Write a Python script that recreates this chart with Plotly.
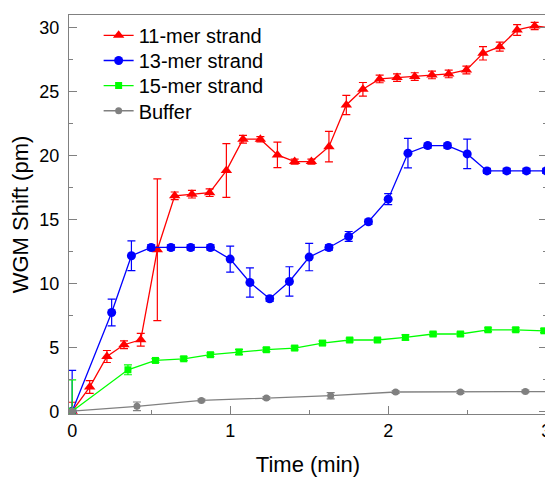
import plotly.graph_objects as go

# 11-mer strand
x11 = [0, 0.111, 0.220, 0.328, 0.434, 0.539, 0.649, 0.758, 0.870, 0.976, 1.081, 1.191, 1.299, 1.408,
       1.514, 1.625, 1.735, 1.840, 1.946, 2.056, 2.168, 2.277, 2.383, 2.495, 2.600, 2.706, 2.816, 2.927, 3.037]
y11 = [0, 1.89, 4.28, 5.2, 5.59, 12.63, 16.85, 16.98, 17.1, 18.83, 21.28, 21.28, 20.05, 19.53,
       19.53, 20.7, 23.96, 25.19, 26.0, 26.1, 26.18, 26.31, 26.39, 26.7, 28.0, 28.52, 29.83, 30.14, 30.0]
e11 = [0.7, 0.5, 0.47, 0.3, 0.5, 5.55, 0.3, 0.3, 0.3, 2.1, 0.3, 0.2, 1.0, 0.2,
       0.2, 1.2, 0.75, 0.53, 0.3, 0.3, 0.3, 0.3, 0.3, 0.3, 0.52, 0.35, 0.42, 0.29, 0.3]

# 13-mer strand
x13 = [0, 0.25, 0.375, 0.5, 0.625, 0.75, 0.875, 1.0, 1.125, 1.25, 1.375, 1.5, 1.625, 1.75,
       1.875, 2.0, 2.125, 2.25, 2.375, 2.5, 2.625, 2.75, 2.875, 3.0]
y13 = [0, 7.72, 12.16, 12.81, 12.81, 12.81, 12.81, 11.9, 10.07, 8.8, 10.15, 12.06, 12.81, 13.67,
       14.82, 16.59, 20.19, 20.78, 20.78, 20.13, 18.8, 18.8, 18.8, 18.8]
e13 = [3.2, 1.05, 1.16, 0.2, 0.2, 0.2, 0.2, 1.02, 1.15, 0.2, 1.15, 1.07, 0.2, 0.39,
       0.2, 0.43, 1.15, 0.2, 0.2, 1.15, 0.2, 0.2, 0.2, 0.2]

# 15-mer strand
x15 = [0, 0.353, 0.527, 0.706, 0.875, 1.056, 1.229, 1.408, 1.584, 1.756, 1.932, 2.109, 2.284,
       2.457, 2.632, 2.807, 2.986]
y15 = [0, 3.24, 3.97, 4.1, 4.42, 4.63, 4.81, 4.94, 5.33, 5.57, 5.57, 5.77, 6.04, 6.04, 6.37, 6.37, 6.29]
e15 = [2.45, 0.39, 0.15, 0.15, 0.15, 0.2, 0.15, 0.15, 0.15, 0.15, 0.15, 0.2, 0.15, 0.15, 0.15, 0.15, 0.15]

# Buffer
xb = [0, 0.41, 0.818, 1.229, 1.636, 2.047, 2.457, 2.868, 3.28]
yb = [0, 0.38, 0.84, 1.03, 1.21, 1.5, 1.5, 1.55, 1.55]
eb = [0.1, 0.34, 0.1, 0.1, 0.25, 0.1, 0.1, 0.1, 0.1]

names = ["11-mer strand", "13-mer strand", "15-mer strand", "Buffer"]
colors = ["#FF0000", "#0000FF", "#00FF00", "#808080"]
symbols = ["triangle-up", "circle", "square", "circle"]
sizes = [10, 9, 7, 7]

FONT = "Arial, Liberation Sans, sans-serif"

fig = go.Figure()
series = [(x11, y11, e11), (x13, y13, e13), (x15, y15, e15), (xb, yb, eb)]
legend_ids = ["legend", "legend2", "legend3", "legend4"]
for i, (x, y, e) in enumerate(series):
    fig.add_trace(go.Scatter(
        x=x, y=y, name=names[i], mode="lines+markers", legend=legend_ids[i],
        line=dict(color=colors[i], width=1.3),
        marker=dict(color=colors[i], symbol=symbols[i], size=sizes[i]),
        error_y=dict(type="data", array=e, visible=True, color=colors[i], thickness=1.2, width=4),
    ))

axis_common = dict(
    showgrid=False, zeroline=False, showline=True, linecolor="#808080", linewidth=1.2,
    ticks="inside", ticklen=8, tickcolor="#808080", tickwidth=1.2, automargin=False,
    tickfont=dict(family=FONT, size=18, color="black"),
)

fig.update_xaxes(
    **axis_common, range=[-0.02, 3.005], tick0=0, dtick=1, mirror=True,
    minor=dict(ticks="inside", ticklen=4, dtick=0.5, tickcolor="#808080", tickwidth=1.2),
    title=dict(text="Time (min)", font=dict(family=FONT, size=22, color="black"), standoff=17),
)
fig.update_yaxes(
    **axis_common, range=[-0.22, 31], tick0=0, dtick=5, mirror="ticks", ticklabelstandoff=5,
    minor=dict(ticks="inside", ticklen=4, dtick=2.5, tickcolor="#808080", tickwidth=1.2),
    title=dict(text="WGM Shift (pm)", font=dict(family=FONT, size=22, color="black"), standoff=8),
)

# legend item centres (paper fraction of plot height)
leg_y = [0.949, 0.886, 0.823, 0.760]
legends = {}
for i, lid in enumerate(legend_ids):
    legends[lid] = dict(x=0.062, y=leg_y[i], xanchor="left", yanchor="middle",
                        font=dict(family=FONT, size=20, color="black"),
                        bgcolor="rgba(0,0,0,0)")

# page body has an 8px default margin: size the figure so the visible frame matches
fig.update_layout(
    width=545, height=469,
    margin=dict(l=61, r=6, t=7, b=63),
    plot_bgcolor="white", paper_bgcolor="white",
    showlegend=True,
    **legends,
)

fig.write_html("out.html")
